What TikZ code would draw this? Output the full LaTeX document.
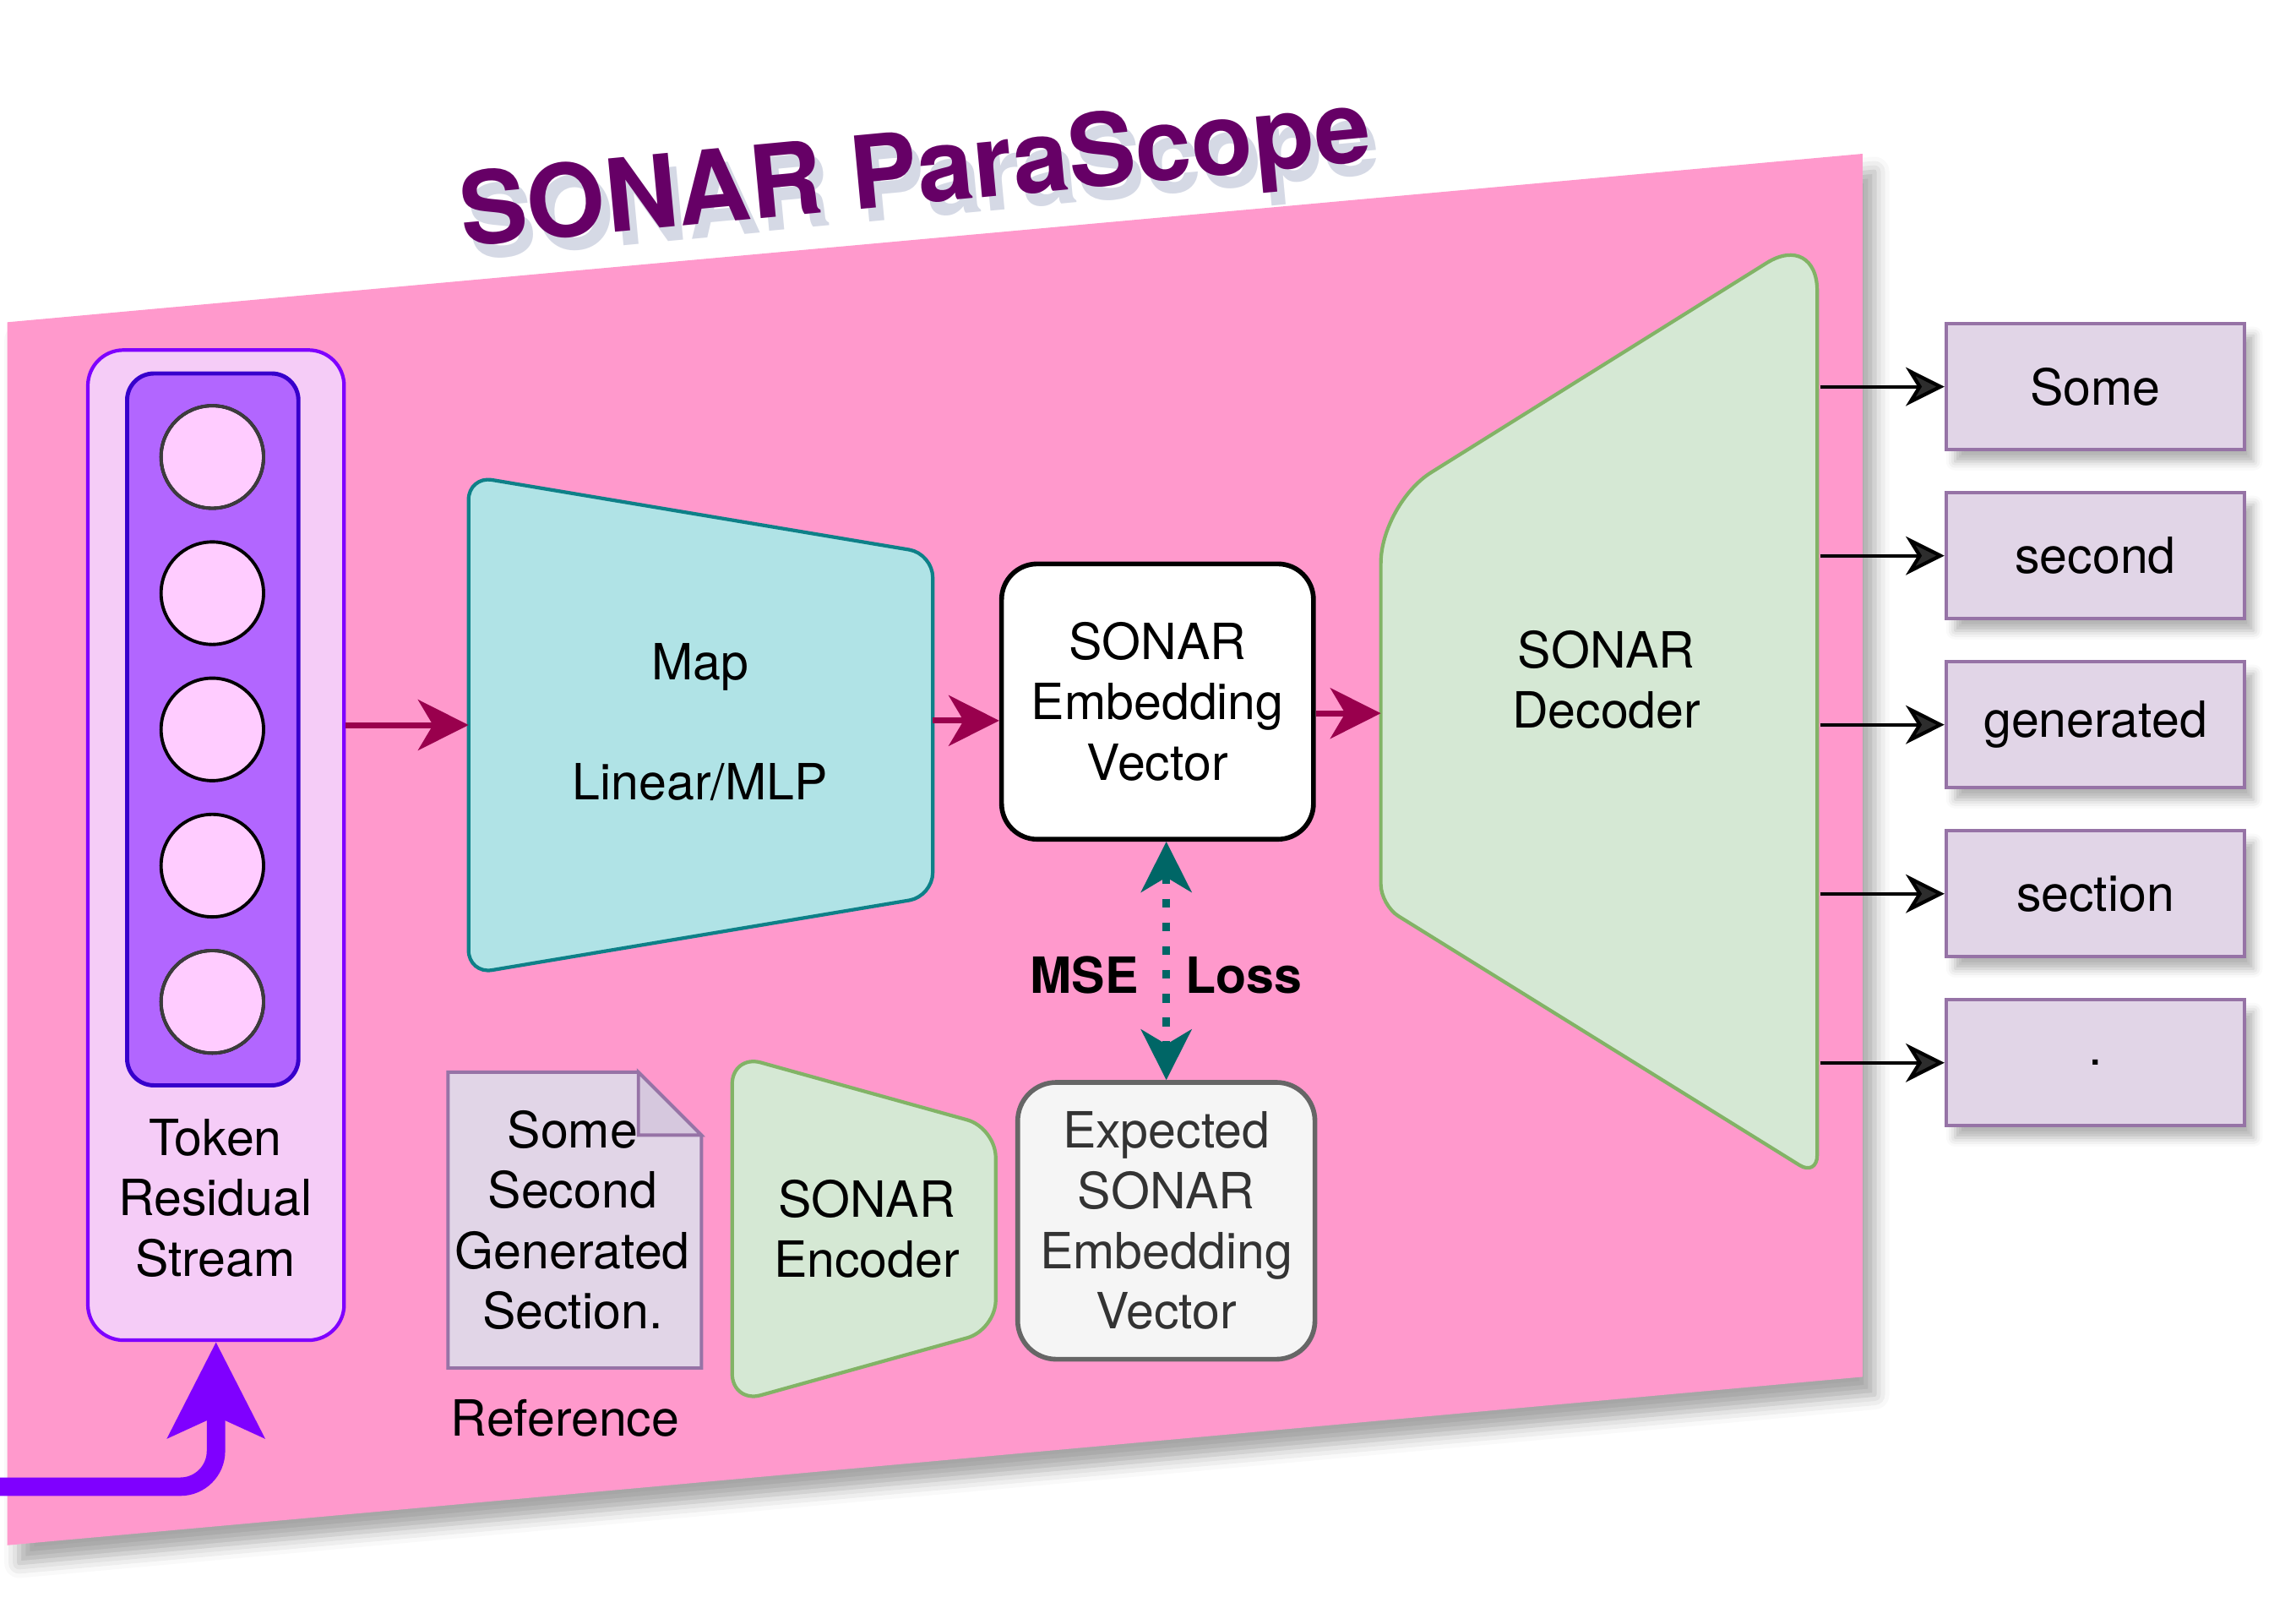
\documentclass[tikz,border=0pt]{standalone}
\usepackage{fontspec}
\setmainfont{TeX Gyre Heros}
\usepackage{tikz}
\usetikzlibrary{arrows.meta,shapes,positioning,shadows,shadows.blur}
\usepackage{xcolor}
\definecolor{psPink}{RGB}{255,153,204}
\definecolor{psTitle}{RGB}{102,0,102}
\definecolor{psShadow}{RGB}{150,160,190}
\definecolor{tokOuter}{RGB}{245,204,247}
\definecolor{tokLine}{RGB}{127,0,255}
\definecolor{tokInner}{RGB}{178,102,255}
\definecolor{tokInLine}{RGB}{55,0,204}
\definecolor{cellFill}{RGB}{255,204,255}
\definecolor{cellEdge}{RGB}{60,60,60}
\definecolor{magLine}{RGB}{153,0,77}
\definecolor{mapFill}{RGB}{176,227,230}
\definecolor{mapLine}{RGB}{14,128,136}
\definecolor{sonFill}{RGB}{213,232,212}
\definecolor{sonLine}{RGB}{130,179,102}
\definecolor{wordFill}{RGB}{225,213,231}
\definecolor{wordLine}{RGB}{150,115,166}
\definecolor{foldFill}{RGB}{214,200,222}
\definecolor{lossLine}{RGB}{0,102,102}
\definecolor{expFill}{RGB}{245,245,245}
\definecolor{expLine}{RGB}{102,102,102}
\definecolor{expText}{RGB}{51,51,51}
\newdimen\px \px=0.17334mm
\tikzstyle{txt} = [align=center, font=\fontsize{16.8}{20.3}\selectfont]
\tikzstyle{softshadow} = [blur shadow={shadow xshift=3pt, shadow yshift=-4pt, shadow blur radius=3pt, shadow opacity=30}]
\tikzstyle{word} = [rectangle, draw=wordLine, line width=1.1pt, fill=wordFill, minimum width=204*\px, minimum height=86*\px, txt, softshadow]
\tikzstyle{son} = [draw=sonLine, line width=1.2pt, fill=sonFill]
\tikzstyle{cell} = [circle, draw=black, line width=1.1pt, fill=cellFill, minimum size=70*\px, inner sep=0pt]
\tikzstyle{magarr} = [line width=2pt, color=magLine, -{Stealth[length=17pt, width=17pt, inset=5pt]}]
\tikzstyle{outarr} = [line width=1.2pt, -{Stealth[length=13pt, width=13pt, inset=4pt]}]
\tikzstyle{title} = [font=\fontsize{34}{40}\selectfont\bfseries, rotate=5.4, anchor=base]

\begin{document}
\begin{tikzpicture}[x=0.17334mm, y=-0.17334mm]
\useasboundingbox (0,0) rectangle (1568,1090);
% Pink plane and title
\fill[psPink, blur shadow={shadow xshift=4pt, shadow yshift=-6pt, shadow blur radius=5pt, shadow opacity=35}] (5,220) -- (1272,105) -- (1272,940) -- (5,1055) -- cycle;
\node[title, text=psShadow, opacity=0.4] (tsh) at (633,148) {SONAR ParaScope};
\node[title, text=psTitle] (title) at (627,139) {SONAR ParaScope};

% Token residual stream
\node[draw=tokLine, line width=1.2pt, fill=tokOuter, rounded corners=12pt, minimum width=175*\px, minimum height=676*\px] (tok) at (147.5,577) {};
\node[draw=tokInLine, line width=1.4pt, fill=tokInner, rounded corners=9pt, minimum width=117*\px, minimum height=486*\px] (tokin) at (145.3,498) {};
\foreach \i in {1,...,5}
  \node[cell] (c\i) at (145,{312+93*(\i-1)}) {};
\draw[cellEdge, line width=1.1pt] (c1.center) circle[radius=35] (c5.center) circle[radius=35];
\node[txt] (toktxt) at (147,818) {Token\\Residual\\Stream};
\coordinate (src) at (0,1015);
\draw[line width=6.2pt, tokLine, rounded corners=12pt, -{Stealth[length=32pt, width=32pt, inset=7pt]}] (src) -- (src -| tok.south) -- (tok.south);

% Map
\draw[draw=mapLine, line width=1.2pt, fill=mapFill, rounded corners=8pt] (320,495) -- (320,325) -- (637,378) -- (637,612) -- (320,665) -- cycle;
\coordinate (mapW) at (320,495);
\coordinate (mapE) at (637,492);
\node[txt] (map) at (478,493) {Map\\[20.3pt]Linear/MLP};
\draw[magarr] (tok.east |- mapW) -- (mapW);

% SONAR embedding
\node[draw=black, line width=1.6pt, fill=white, rounded corners=12pt, minimum width=213*\px, minimum height=188*\px, txt] (emb) at (790.5,479) {SONAR\\Embedding\\Vector};
\draw[magarr] (mapE) -- (mapE -| emb.west);

% Decoder
\draw[son] (943,480) [rounded corners=20pt] -- (943,344) -- (1241,158) [rounded corners=7pt] -- (1241,803) -- (943,618) [rounded corners=20pt] -- cycle;
\coordinate (decW) at (943,487);
\coordinate (decR) at (1243,480);
\node[txt] (dec) at (1097,464) {SONAR\\Decoder};
\draw[magarr] (emb.east |- decW) -- (decW);

% Output tokens
\foreach \w [count=\i] in {Some,second,generated,section,.}
  \node[word] (o\i) at (1431,{264+115.4*(\i-1)}) {\w};
\foreach \i in {1,...,5}
  \draw[outarr] (decR |- o\i.west) -- (o\i.west);

% Reference and encoder
\draw[draw=wordLine, line width=1.1pt, fill=wordFill] (306,732) -- (436,732) -- (479,775) -- (479,934) -- (306,934) -- cycle;
\draw[draw=wordLine, line width=1.1pt, fill=foldFill] (436,732) -- (436,775) -- (479,775) -- cycle;
\node[txt] (refdoc) at (391,833) {Some\\Second\\Generated\\Section.};
\node[txt] (reflbl) at (386,968) {Reference};
\draw[son, rounded corners=10pt] (500,840) -- (500,720) -- (680,770) -- (680,908) -- (500,958) -- cycle;
\node[txt] (enc) at (592,839) {SONAR\\Encoder};

% Expected embedding and loss
\node[draw=expLine, line width=1.6pt, fill=expFill, rounded corners=13pt, minimum width=203*\px, minimum height=189*\px, txt, text=expText] (exp) at (796.5,833.5) {Expected\\SONAR\\Embedding\\Vector};
\draw[lossLine, line width=2.4pt, dash pattern=on 3pt off 5pt, {Stealth[length=17pt, width=17pt, inset=5pt]}-{Stealth[length=17pt, width=17pt, inset=5pt]}] (emb.south -| exp.north) -- (exp.north)
  node[pos=0.56, txt, text=black, font=\fontsize{16.8}{20.3}\selectfont\bfseries] (loss) {MSE\hspace{0.95em}Loss};
\end{tikzpicture}
\end{document}
